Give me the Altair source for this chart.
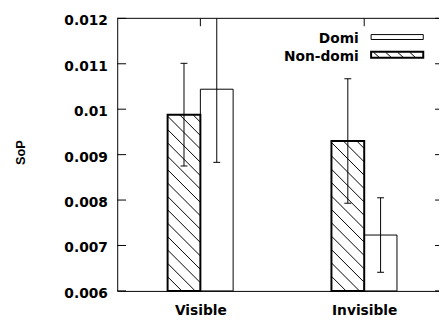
import altair as alt
import pandas as pd
import math

# ---- data ----
categories = ["Visible", "Invisible"]
series = ["Non-domi", "Domi"]
nondomi_mean = [0.00988, 0.00930]
nondomi_err = [0.00113, 0.00137]
domi_mean = [0.01044, 0.00723]
domi_err = [0.00161, 0.00082]
y_ticks = [0.006, 0.007, 0.008, 0.009, 0.010, 0.011, 0.012]

# ---- layout ----
W, H = 327, 277
XDOM = [-0.5075, 1.4565]
YDOM = [0.006, 0.012]
BAR_W = 0.2
sx = W / (XDOM[1] - XDOM[0])
sy = H / (YDOM[1] - YDOM[0])
FONT = "DejaVu Sans"


def dx(px):
    return px / sx


def dy(px):
    return px / sy


rows = []
for i, cat in enumerate(categories):
    for s, m, e in [(series[0], nondomi_mean[i], nondomi_err[i]),
                    (series[1], domi_mean[i], domi_err[i])]:
        x0 = i - BAR_W if s == series[0] else i
        rows.append(dict(cat=cat, series=s, x0=x0, x1=x0 + BAR_W,
                         xc=x0 + BAR_W / 2, mean=m, lo=m - e, hi=m + e,
                         base=YDOM[0]))
bars = pd.DataFrame(rows)
bars["cl"] = bars["xc"] - dx(3.5)
bars["cr"] = bars["xc"] + dx(3.5)

# hatch lines for Non-domi bars (computed in pixel space, converted back)
SP = 13.6
hatch = []
for _, r in bars[bars["series"] == series[0]].iterrows():
    X0 = (r.x0 - XDOM[0]) * sx
    X1 = (r.x1 - XDOM[0]) * sx
    Y0 = (YDOM[1] - r["mean"]) * sy
    Y1 = H
    kmin = -int(math.ceil((X1 - X0) / SP)) - 1
    kmax = int(math.ceil((Y1 - Y0) / SP)) + 1
    for k in range(kmin, kmax + 1):
        c = Y0 + 1.5 + k * SP - X0
        xs = max(X0, Y0 - c)
        xe = min(X1, Y1 - c)
        if xe - xs > 0.5:
            hatch.append(dict(hx=XDOM[0] + xs / sx, hy=YDOM[1] - (xs + c) / sy,
                              hx2=XDOM[0] + xe / sx, hy2=YDOM[1] - (xe + c) / sy))
hatch = pd.DataFrame(hatch)

xs_ = alt.Scale(domain=XDOM, nice=False, zero=False)
ys_ = alt.Scale(domain=YDOM, nice=False, zero=False)

base = alt.Chart(bars)

domi_bars = base.transform_filter(alt.datum.series == series[1]).mark_rect(
    fill="white", stroke="black", strokeWidth=1).encode(
    x=alt.X("x0:Q", scale=xs_,
            axis=alt.Axis(values=[0, 1], labelExpr="datum.value == 0 ? '%s' : '%s'" % (categories[0], categories[1]),
                          title=None, grid=False, ticks=False, tickSize=0, domainColor="black",
                          labelFont=FONT, labelFontWeight="bold", labelFontSize=14,
                          labelColor="black", labelPadding=12.5, labelFlush=False)),
    x2="x1:Q",
    y=alt.Y("mean:Q", scale=ys_,
            axis=alt.Axis(values=y_ticks, format="~g", title="SoP", grid=False, ticks=False,
                          tickSize=0, domainColor="black", labelFont=FONT,
                          labelFontWeight="bold", labelFontSize=14, labelColor="black",
                          labelPadding=10, labelOffset=2.5, labelFlush=False,
                          titleFont="Liberation Sans", titleFontWeight="bold",
                          titleFontSize=13, titleColor="black", titleX=-98,
                          titleY=136, titleAngle=-90, titleBaseline="middle",
                          titleAlign="center")),
    y2="base:Q")

nondomi_bars = base.transform_filter(alt.datum.series == series[0]).mark_rect(
    fill="white", stroke="black", strokeWidth=2).encode(
    x=alt.X("x0:Q", scale=xs_), x2="x1:Q",
    y=alt.Y("mean:Q", scale=ys_), y2="base:Q")

hatch_layer = alt.Chart(hatch).mark_rule(color="black", strokeWidth=1).encode(
    x=alt.X("hx:Q", scale=xs_), x2="hx2:Q",
    y=alt.Y("hy:Q", scale=ys_), y2="hy2:Q")

err = base.mark_rule(color="black", strokeWidth=1, clip=True).encode(
    x=alt.X("xc:Q", scale=xs_), y=alt.Y("lo:Q", scale=ys_), y2="hi:Q")
cap_lo = base.mark_rule(color="black", strokeWidth=1, clip=True).encode(
    x=alt.X("cl:Q", scale=xs_), x2="cr:Q", y=alt.Y("lo:Q", scale=ys_))
cap_hi = base.mark_rule(color="black", strokeWidth=1, clip=True).encode(
    x=alt.X("cl:Q", scale=xs_), x2="cr:Q", y=alt.Y("hi:Q", scale=ys_))

# frame and inward ticks
tick_y = pd.DataFrame({"v": y_ticks})
tick_y["l0"] = XDOM[0]
tick_y["l1"] = XDOM[0] + dx(9)
tick_y["r0"] = XDOM[1] - dx(4)
tick_y["r1"] = XDOM[1]
left_ticks = alt.Chart(tick_y).mark_rule(color="black").encode(
    x=alt.X("l0:Q", scale=xs_), x2="l1:Q", y=alt.Y("v:Q", scale=ys_))
right_ticks = alt.Chart(tick_y).mark_rule(color="black").encode(
    x=alt.X("r0:Q", scale=xs_), x2="r1:Q", y=alt.Y("v:Q", scale=ys_))

tick_x = pd.DataFrame({"v": [0, 1]})
tick_x["t0"] = YDOM[1]
tick_x["t1"] = YDOM[1] - dy(8)
tick_x["b0"] = YDOM[0]
tick_x["b1"] = YDOM[0] + dy(8)
top_ticks = alt.Chart(tick_x).mark_rule(color="black").encode(
    x=alt.X("v:Q", scale=xs_), y=alt.Y("t0:Q", scale=ys_), y2="t1:Q")
bot_ticks = alt.Chart(tick_x).mark_rule(color="black").encode(
    x=alt.X("v:Q", scale=xs_), y=alt.Y("b0:Q", scale=ys_), y2="b1:Q")

frame = pd.DataFrame({"a": [XDOM[0]], "b": [XDOM[1]], "y": [YDOM[1]]})
top_line = alt.Chart(frame).mark_rule(color="black").encode(
    x=alt.X("a:Q", scale=xs_), x2="b:Q", y=alt.Y("y:Q", scale=ys_))

# manual legend (labels left of the keys, as in the reference)
leg_domi = pd.DataFrame({"label": [series[1]]})
leg_non = pd.DataFrame({"label": [series[0]]})
lt_d = alt.Chart(leg_domi).mark_text(align="right", baseline="middle", font=FONT,
                                     fontWeight="bold", fontSize=14, color="black").encode(
    text="label:N", x=alt.value(245.5), y=alt.value(20.6))
lt_n = alt.Chart(leg_non).mark_text(align="right", baseline="middle", font=FONT,
                                    fontWeight="bold", fontSize=14, color="black").encode(
    text="label:N", x=alt.value(245.5), y=alt.value(39.2))
lb_d = alt.Chart(leg_domi).mark_rect(fill="white", stroke="black", strokeWidth=1).encode(
    x=alt.value(258), x2=alt.value(311), y=alt.value(16.5), y2=alt.value(21.5))
lb_n = alt.Chart(leg_non).mark_rect(fill="white", stroke="black", strokeWidth=2).encode(
    x=alt.value(258), x2=alt.value(311), y=alt.value(34), y2=alt.value(40))
leg_hatch = [
    alt.Chart(leg_non).mark_rule(color="black", strokeWidth=1).encode(
        x=alt.value(xh), x2=alt.value(xh + 5.5), y=alt.value(34.5), y2=alt.value(39.5))
    for xh in [260.5, 272.8, 285.0, 297.3]
]

chart = alt.layer(
    domi_bars, nondomi_bars, hatch_layer, err, cap_lo, cap_hi,
    left_ticks, right_ticks, top_ticks, bot_ticks, top_line,
    lb_d, lb_n, *leg_hatch, lt_d, lt_n,
).properties(
    width=W, height=H,
    autosize=alt.AutoSizeParams(type="none"),
    padding={"left": 111, "top": 8, "right": 0, "bottom": 24},
).configure_view(stroke=None).configure_axis(domainWidth=1)

chart.save("out.html", embed_options={"renderer": "svg", "actions": False})
